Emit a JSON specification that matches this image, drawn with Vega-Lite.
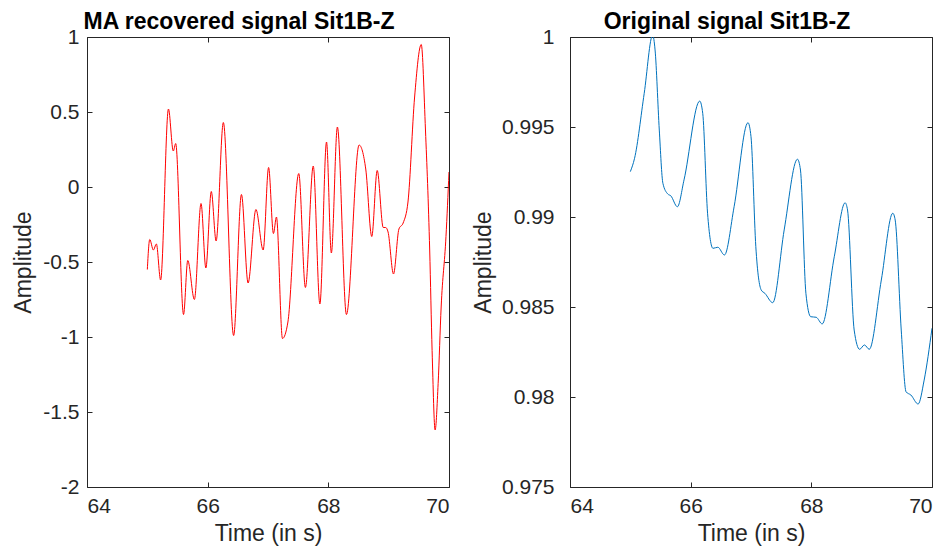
{
  "$schema": "https://vega.github.io/schema/vega-lite/v6.json",
  "background": "white",
  "padding": {"left": 12, "top": 10, "right": 5, "bottom": 5},
  "spacing": 21,
  "config": {
    "view": {"stroke": "#262626", "strokeWidth": 1},
    "font": "Liberation Sans",
    "axis": {
      "labelFont": "Liberation Sans",
      "labelFontSize": 21,
      "labelColor": "#262626",
      "titleFont": "Liberation Sans",
      "titleFontSize": 23,
      "titleFontWeight": "normal",
      "titleColor": "#262626",
      "domain": false,
      "tickColor": "#262626",
      "tickWidth": 1,
      "tickSize": 5,
      "grid": false
    },
    "title": {"font": "Liberation Sans", "fontSize": 23, "fontWeight": "bold", "color": "#000000", "offset": -8}
  },
  "datasets": {
    "ma": [
      {"t": 65.00, "v": -0.55}, {"t": 65.04, "v": -0.35}, {"t": 65.10, "v": -0.42}, {"t": 65.15, "v": -0.38},
      {"t": 65.22, "v": -0.62}, {"t": 65.35, "v": 0.52}, {"t": 65.43, "v": 0.24}, {"t": 65.47, "v": 0.29},
      {"t": 65.60, "v": -0.85}, {"t": 65.67, "v": -0.49}, {"t": 65.78, "v": -0.75}, {"t": 65.89, "v": -0.11},
      {"t": 65.97, "v": -0.54}, {"t": 66.06, "v": -0.03}, {"t": 66.14, "v": -0.36}, {"t": 66.26, "v": 0.43},
      {"t": 66.43, "v": -0.99}, {"t": 66.56, "v": -0.05}, {"t": 66.67, "v": -0.64}, {"t": 66.80, "v": -0.15},
      {"t": 66.92, "v": -0.42}, {"t": 67.01, "v": 0.13}, {"t": 67.09, "v": -0.31}, {"t": 67.14, "v": -0.20},
      {"t": 67.24, "v": -1.01}, {"t": 67.33, "v": -0.90}, {"t": 67.51, "v": 0.09}, {"t": 67.62, "v": -0.67},
      {"t": 67.75, "v": 0.14}, {"t": 67.86, "v": -0.78}, {"t": 67.97, "v": 0.30}, {"t": 68.05, "v": -0.44},
      {"t": 68.15, "v": 0.40}, {"t": 68.30, "v": -0.85}, {"t": 68.51, "v": 0.28}, {"t": 68.62, "v": 0.12},
      {"t": 68.72, "v": -0.33}, {"t": 68.81, "v": 0.11}, {"t": 68.91, "v": -0.27}, {"t": 68.95, "v": -0.27},
      {"t": 68.99, "v": -0.30}, {"t": 69.08, "v": -0.58}, {"t": 69.17, "v": -0.28}, {"t": 69.24, "v": -0.24},
      {"t": 69.32, "v": -0.10}, {"t": 69.43, "v": 0.60}, {"t": 69.54, "v": 0.95}, {"t": 69.61, "v": 0.38},
      {"t": 69.68, "v": -0.42}, {"t": 69.72, "v": -1.09}, {"t": 69.77, "v": -1.62}, {"t": 69.82, "v": -1.31},
      {"t": 69.87, "v": -0.80}, {"t": 69.95, "v": -0.33}, {"t": 70.00, "v": 0.10}
    ],
    "orig": [
      {"t": 65.00, "v": 0.99252}, {"t": 65.07, "v": 0.99326}, {"t": 65.23, "v": 0.99687}, {"t": 65.37, "v": 1.0001},
      {"t": 65.41, "v": 0.99928}, {"t": 65.48, "v": 0.99483}, {"t": 65.54, "v": 0.99187}, {"t": 65.62, "v": 0.99128},
      {"t": 65.67, "v": 0.99118}, {"t": 65.78, "v": 0.99057}, {"t": 65.89, "v": 0.99206}, {"t": 66.15, "v": 0.99644},
      {"t": 66.20, "v": 0.99576}, {"t": 66.28, "v": 0.99021}, {"t": 66.37, "v": 0.98826}, {"t": 66.45, "v": 0.98832},
      {"t": 66.56, "v": 0.98789}, {"t": 66.72, "v": 0.99057}, {"t": 66.95, "v": 0.99524}, {"t": 67.00, "v": 0.99446},
      {"t": 67.08, "v": 0.98835}, {"t": 67.17, "v": 0.98594}, {"t": 67.23, "v": 0.98576}, {"t": 67.36, "v": 0.98524},
      {"t": 67.55, "v": 0.98928}, {"t": 67.77, "v": 0.99321}, {"t": 67.82, "v": 0.99261}, {"t": 67.91, "v": 0.98576},
      {"t": 67.99, "v": 0.98446}, {"t": 68.08, "v": 0.98443}, {"t": 68.18, "v": 0.98406}, {"t": 68.38, "v": 0.98779},
      {"t": 68.56, "v": 0.99079}, {"t": 68.60, "v": 0.99039}, {"t": 68.71, "v": 0.98372}, {"t": 68.80, "v": 0.98265},
      {"t": 68.88, "v": 0.98289}, {"t": 68.96, "v": 0.98265}, {"t": 69.16, "v": 0.98650}, {"t": 69.35, "v": 0.99021},
      {"t": 69.39, "v": 0.98983}, {"t": 69.49, "v": 0.98372}, {"t": 69.57, "v": 0.98029}, {"t": 69.65, "v": 0.98011},
      {"t": 69.77, "v": 0.97961}, {"t": 69.87, "v": 0.98094}, {"t": 70.00, "v": 0.98382}
    ]
  },
  "hconcat": [
    {
      "width": 362,
      "height": 450,
      "title": {"text": "MA recovered signal Sit1B-Z", "dx": -29},
      "data": {"name": "ma"},
      "resolve": {"axis": {"x": "independent", "y": "independent"}},
      "layer": [
        {
          "mark": {"type": "line", "color": "#ff0000", "strokeWidth": 1, "interpolate": "monotone", "clip": true},
          "encoding": {
            "x": {"field": "t", "type": "quantitative", "scale": {"domain": [64, 70], "nice": false, "zero": false},
              "axis": {"orient": "bottom", "values": [64, 66, 68, 70], "title": "Time (in s)", "ticks": false, "labelPadding": 8, "titlePadding": 6, "labelExpr": "'' + datum.value"}},
            "y": {"field": "v", "type": "quantitative", "scale": {"domain": [-2, 1], "nice": false, "zero": false},
              "axis": {"orient": "left", "values": [-2, -1.5, -1, -0.5, 0, 0.5, 1], "title": "Amplitude", "ticks": false, "labelPadding": 8, "titlePadding": 7, "labelExpr": "'' + datum.value"}}
          }
        },
        {
          "mark": {"type": "line", "strokeOpacity": 0},
          "encoding": {
            "x": {"field": "t", "type": "quantitative", "axis": {"orient": "top", "offset": -450, "values": [64, 66, 68, 70], "labels": false, "title": null}},
            "y": {"field": "v", "type": "quantitative", "axis": {"orient": "right", "offset": -362, "values": [-2, -1.5, -1, -0.5, 0, 0.5, 1], "labels": false, "title": null}}
          }
        },
        {
          "mark": {"type": "line", "strokeOpacity": 0},
          "encoding": {
            "x": {"field": "t", "type": "quantitative", "axis": {"orient": "bottom", "offset": -450, "values": [64, 66, 68, 70], "labels": false, "title": null}},
            "y": {"field": "v", "type": "quantitative", "axis": {"orient": "left", "offset": -362, "values": [-2, -1.5, -1, -0.5, 0, 0.5, 1], "labels": false, "title": null}}
          }
        }
      ]
    },
    {
      "width": 362,
      "height": 450,
      "title": {"text": "Original signal Sit1B-Z", "dx": -24},
      "data": {"name": "orig"},
      "resolve": {"axis": {"x": "independent", "y": "independent"}},
      "layer": [
        {
          "mark": {"type": "line", "color": "#0072bd", "strokeWidth": 1, "interpolate": "monotone", "clip": true},
          "encoding": {
            "x": {"field": "t", "type": "quantitative", "scale": {"domain": [64, 70], "nice": false, "zero": false},
              "axis": {"orient": "bottom", "values": [64, 66, 68, 70], "title": "Time (in s)", "ticks": false, "labelPadding": 8, "titlePadding": 6, "labelExpr": "'' + datum.value"}},
            "y": {"field": "v", "type": "quantitative", "scale": {"domain": [0.975, 1], "nice": false, "zero": false},
              "axis": {"orient": "left", "values": [0.975, 0.98, 0.985, 0.99, 0.995, 1], "title": "Amplitude", "ticks": false, "labelPadding": 16, "titlePadding": 6, "labelExpr": "'' + datum.value"}}
          }
        },
        {
          "mark": {"type": "line", "strokeOpacity": 0},
          "encoding": {
            "x": {"field": "t", "type": "quantitative", "axis": {"orient": "top", "offset": -450, "values": [64, 66, 68, 70], "labels": false, "title": null}},
            "y": {"field": "v", "type": "quantitative", "axis": {"orient": "right", "offset": -362, "values": [0.975, 0.98, 0.985, 0.99, 0.995, 1], "labels": false, "title": null}}
          }
        },
        {
          "mark": {"type": "line", "strokeOpacity": 0},
          "encoding": {
            "x": {"field": "t", "type": "quantitative", "axis": {"orient": "bottom", "offset": -450, "values": [64, 66, 68, 70], "labels": false, "title": null}},
            "y": {"field": "v", "type": "quantitative", "axis": {"orient": "left", "offset": -362, "values": [0.975, 0.98, 0.985, 0.99, 0.995, 1], "labels": false, "title": null}}
          }
        }
      ]
    }
  ]
}
